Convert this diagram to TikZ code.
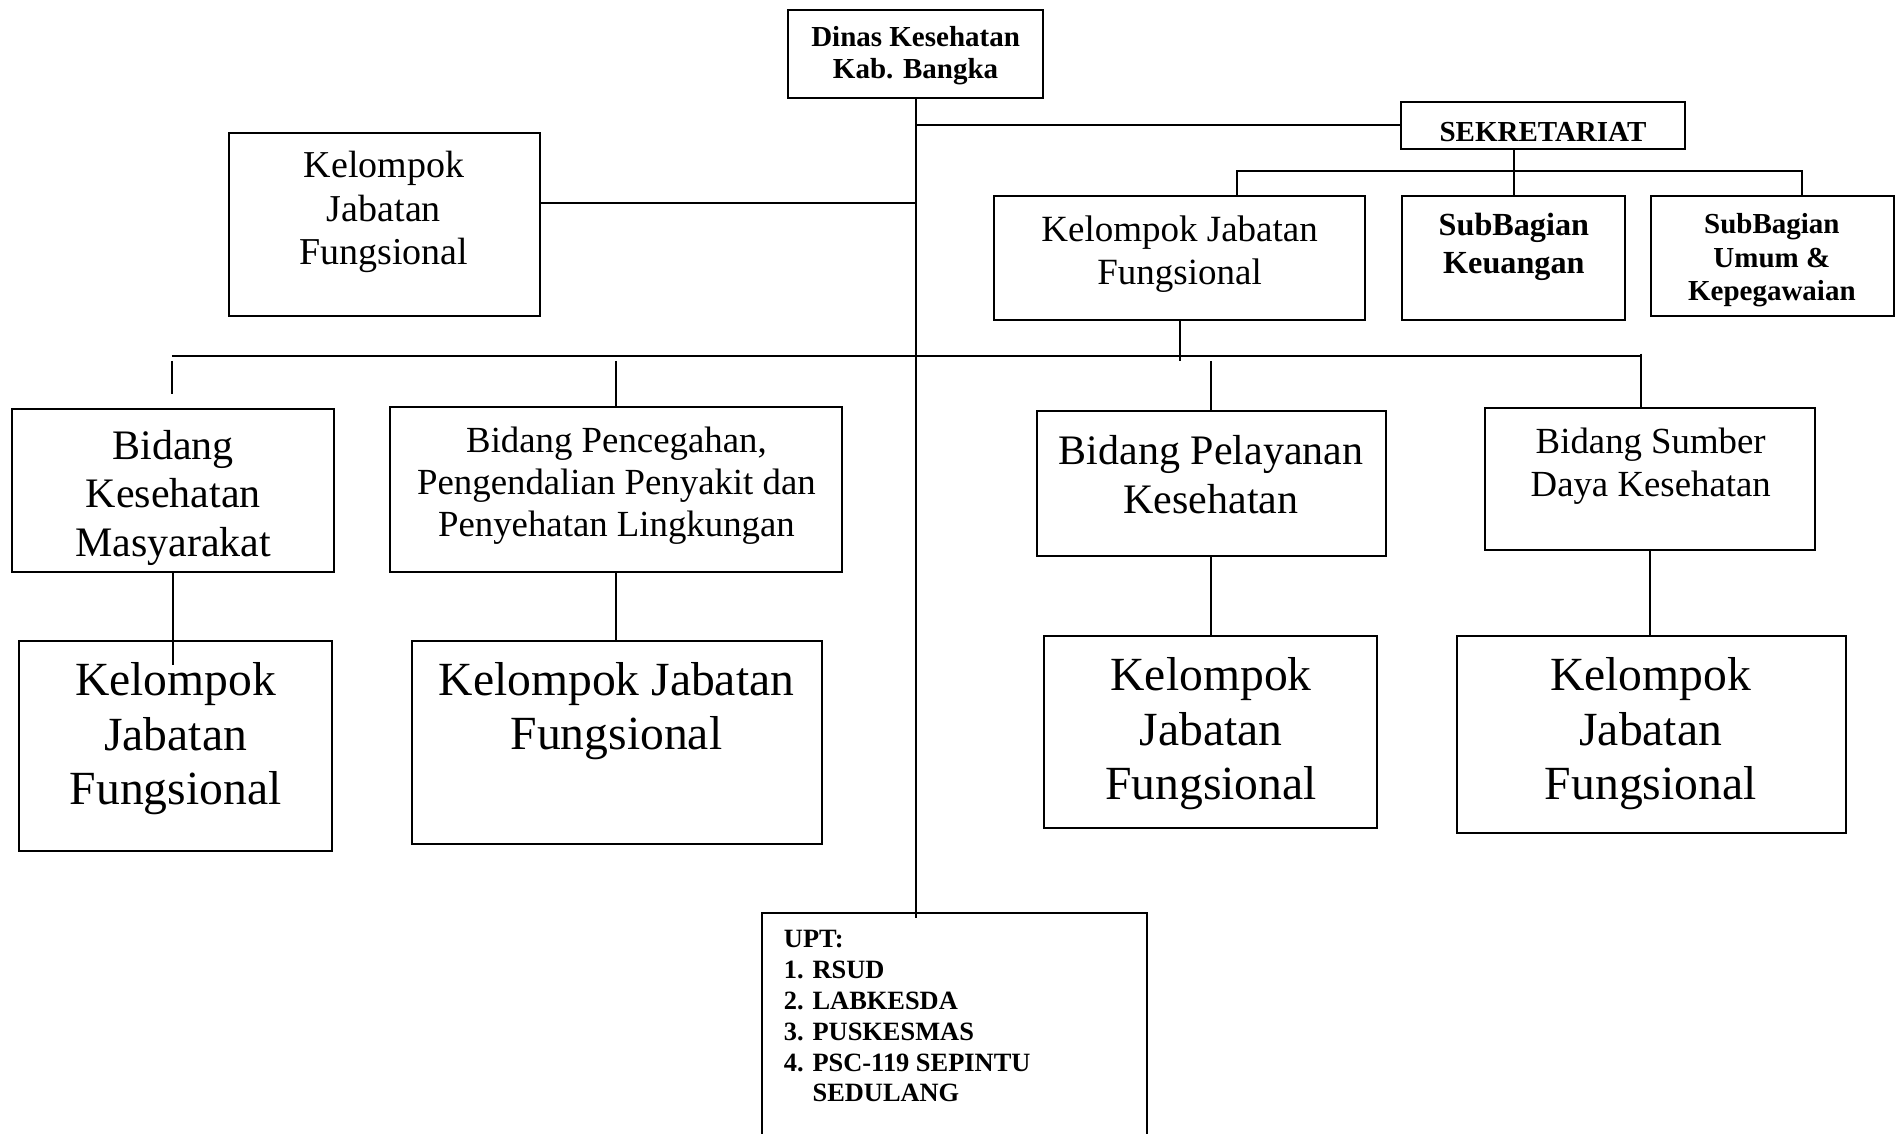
\documentclass[tikz,border=0pt]{standalone}
\usepackage{fontspec}
\setmainfont{Liberation Serif}
\newlength\unitpx
\setlength\unitpx{0.6055pt}

\begin{document}
\begin{tikzpicture}[x=0.6055pt,y=0.6055pt,yscale=-1,
  box/.style={draw, line width=1pt, inner sep=0pt},
  conn/.style={line width=1pt},
  txt/.style={inner sep=0pt, align=center}]
\clip (0,0) rectangle (1568,936);

%Shape: Rectangle [id:dinas]
\node[box, minimum width=210\unitpx, minimum height=73\unitpx] (dinas) at (756,44.5) {};
%Shape: Rectangle [id:sekr]
\node[box, minimum width=234\unitpx, minimum height=39\unitpx] (sekr) at (1274,103.5) {};
%Shape: Rectangle [id:kjfTop]
\node[box, minimum width=257\unitpx, minimum height=151\unitpx] (kjfTop) at (317.5,185.5) {};
%Shape: Rectangle [id:kjfSek]
\node[box, minimum width=306\unitpx, minimum height=102\unitpx] (kjfSek) at (974,213) {};
%Shape: Rectangle [id:subKeu]
\node[box, minimum width=184\unitpx, minimum height=102\unitpx] (subKeu) at (1250,213) {};
%Shape: Rectangle [id:subUmum]
\node[box, minimum width=201\unitpx, minimum height=99\unitpx] (subUmum) at (1463.5,211.5) {};
%Shape: Rectangle [id:bidKesmas]
\node[box, minimum width=266\unitpx, minimum height=134\unitpx] (bidKesmas) at (143,405) {};
%Shape: Rectangle [id:bidP2]
\node[box, minimum width=373\unitpx, minimum height=136\unitpx] (bidP2) at (508.5,404) {};
%Shape: Rectangle [id:bidYankes]
\node[box, minimum width=288\unitpx, minimum height=120\unitpx] (bidYankes) at (1000,399) {};
%Shape: Rectangle [id:bidSDK]
\node[box, minimum width=273\unitpx, minimum height=117\unitpx] (bidSDK) at (1362.5,395.5) {};
%Shape: Rectangle [id:kjf1]
\node[box, minimum width=258\unitpx, minimum height=174\unitpx] (kjf1) at (145,616) {};
%Shape: Rectangle [id:kjf2]
\node[box, minimum width=339\unitpx, minimum height=168\unitpx] (kjf2) at (509.5,613) {};
%Shape: Rectangle [id:kjf3]
\node[box, minimum width=275\unitpx, minimum height=159\unitpx] (kjf3) at (999.5,604.5) {};
%Shape: Rectangle [id:kjf4]
\node[box, minimum width=321\unitpx, minimum height=163\unitpx] (kjf4) at (1363.5,606.5) {};
%Shape: Rectangle [id:upt]
\node[box, minimum width=318\unitpx, minimum height=220\unitpx] (upt) at (788,864) {};

%Named points of the lines
\coordinate (spineEnd) at (756,758);
\coordinate (kjfTopJoin) at (446,168);
\coordinate (busSekL) at (1021,141);
\coordinate (busSekR) at (1488,141);
\coordinate (busL) at (142,294);
\coordinate (busR) at (1355,294);

%Straight Lines [spine]
\draw[conn] (dinas.south) -- (spineEnd);
%Straight Lines [to sekretariat]
\draw[conn] (dinas.south |- sekr.west) -- (sekr.west);
%Straight Lines [to kjfTop]
\draw[conn] (kjfTopJoin) -- (kjfTopJoin -| dinas.south);
%Straight Lines [sekretariat bus]
\draw[conn] (sekr.south -| subKeu.north) -- (subKeu.north);
\draw[conn] (kjfSek.north -| busSekL) -- (busSekL) -- (busSekR) -- (busSekR |- subUmum.north);
%Straight Lines [main bus]
\draw[conn] (busL) -- (busR);
\draw[conn] (kjfSek.south) -- ++(0,33);
\draw[conn] ([yshift=4\unitpx]busL) -- ++(0,27);
\draw[conn] ([yshift=4\unitpx]bidP2.north |- busL) -- (bidP2.north);
\draw[conn] ([yshift=4\unitpx]bidYankes.north |- busL) -- (bidYankes.north);
\draw[conn] ([yshift=-2\unitpx]busR) -- (busR |- bidSDK.north);
%Straight Lines [bidang to kelompok]
\draw[conn] (bidKesmas.south) -- ++(0,76);
\draw[conn] (bidP2.south) -- (bidP2.south |- kjf2.north);
\draw[conn] (bidYankes.south) -- (bidYankes.south |- kjf3.north);
\draw[conn] (bidSDK.south) -- (bidSDK.south |- kjf4.north);

% Text Node
\node[txt, font=\fontsize{14.5}{16.35}\selectfont\bfseries] (dinasT) at (756,46) {Dinas Kesehatan\\Kab. Bangka};
% Text Node
\node[txt, font=\fontsize{14.5}{16.35}\selectfont\bfseries] (sekrT) at (1274,109) {SEKRETARIAT};
% Text Node
\node[txt, font=\fontsize{19}{21.8}\selectfont] (kjfTopT) at (317,175) {Kelompok\\Jabatan\\Fungsional};
% Text Node
\node[txt, font=\fontsize{18.5}{21.8}\selectfont] (kjfSekT) at (974,210) {Kelompok Jabatan\\Fungsional};
% Text Node
\node[txt, font=\fontsize{16.1}{18.8}\selectfont\bfseries] (subKeuT) at (1250,204) {SubBagian\\Keuangan};
% Text Node
\node[txt, font=\fontsize{14.5}{16.65}\selectfont\bfseries] (subUmumT) at (1463,215) {SubBagian\\Umum \&\\Kepegawaian};
% Text Node
\node[txt, font=\fontsize{21}{24.2}\selectfont] (bidKesmasT) at (143,411) {Bidang\\Kesehatan\\Masyarakat};
% Text Node
\node[txt, font=\fontsize{18.4}{21.2}\selectfont] (bidP2T) at (509,401) {Bidang Pencegahan,\\Pengendalian Penyakit dan\\Penyehatan Lingkungan};
% Text Node
\node[txt, font=\fontsize{21}{24.2}\selectfont] (bidYankesT) at (1000,392) {Bidang Pelayanan\\Kesehatan};
% Text Node
\node[txt, font=\fontsize{18.4}{21.2}\selectfont] (bidSDKT) at (1363,385) {Bidang Sumber\\Daya Kesehatan};
% Text Node
\node[txt, font=\fontsize{23.8}{27.25}\selectfont] (kjf1T) at (145,610) {Kelompok\\Jabatan\\Fungsional};
% Text Node
\node[txt, font=\fontsize{23.8}{27.25}\selectfont] (kjf2T) at (509,587) {Kelompok Jabatan\\Fungsional};
% Text Node
\node[txt, font=\fontsize{23.8}{27.25}\selectfont] (kjf3T) at (1000,606) {Kelompok\\Jabatan\\Fungsional};
% Text Node
\node[txt, font=\fontsize{23.8}{27.25}\selectfont] (kjf4T) at (1363,606) {Kelompok\\Jabatan\\Fungsional};
% Text Node
\node[inner sep=0pt, align=left, anchor=north west, font=\fontsize{13.2}{15.4}\selectfont\bfseries] (uptT) at (647,768) {UPT:\\1. RSUD\\2. LABKESDA\\3. PUSKESMAS\\4. PSC-119 SEPINTU\\\phantom{4. }SEDULANG};

\end{tikzpicture}
\end{document}
